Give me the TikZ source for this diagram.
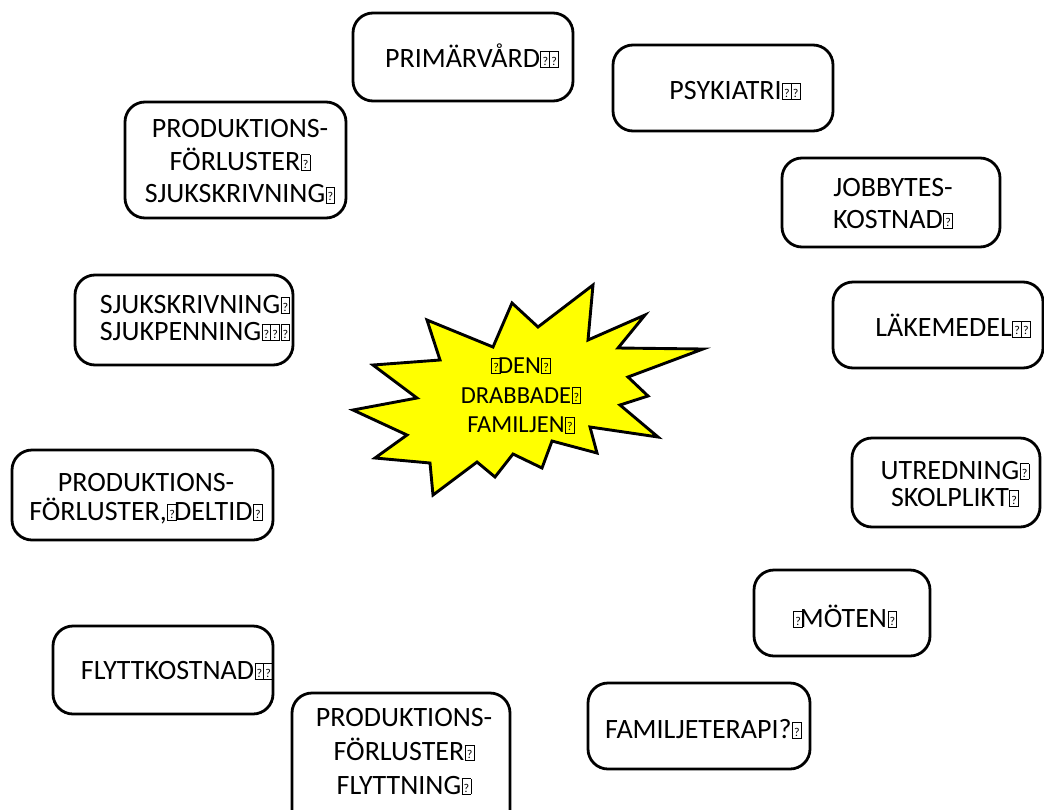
\documentclass[tikz,border=0pt]{standalone}
\usepackage{fontspec}
\setmainfont{Carlito}
\definecolor{burstyellow}{RGB}{255,255,0}
\newcommand\mg{\kern0.5pt\begingroup\fboxsep=0pt\fboxrule=0.8pt\fbox{\makebox[8pt]{\rule{0pt}{15pt}\raisebox{2pt}{\fontsize{12}{12}\selectfont ?}}}\endgroup}
\newcommand\mgg{\mg\kern-1.3pt\mg}
\begin{document}
\begin{tikzpicture}[x=1pt,y=-1pt,
  box/.style={draw=black, line width=2.8pt, rounded corners=20pt, fill=white, inner sep=0pt},
  lbl/.style={anchor=base, align=center, inner sep=0pt, font=\fontsize{28}{32.5}\selectfont},
  tightlbl/.style={lbl, font=\fontsize{28}{27}\selectfont},
  starlbl/.style={lbl, font=\fontsize{24.5}{29.7}\selectfont},
  burst/.style={draw=black, line width=2.9pt, fill=burstyellow, line join=miter}
]
\clip (0,0) rectangle (1044,809);
\fill[white] (0,0) rectangle (1044,809);

% boxes
\node[box, minimum width=220pt, minimum height=88pt] (b1) at (463,57) {};
\node[box, minimum width=220pt, minimum height=86pt] (b2) at (723,88) {};
\node[box, minimum width=221pt, minimum height=116pt] (b3) at (235.5,160) {};
\node[box, minimum width=218pt, minimum height=89pt] (b4) at (891,202.5) {};
\node[box, minimum width=210pt, minimum height=86pt] (b5) at (938,325) {};
\node[box, minimum width=188pt, minimum height=89pt] (b6) at (946,482.5) {};
\node[box, minimum width=218pt, minimum height=90pt] (b7) at (184,320) {};
\node[box, minimum width=261pt, minimum height=90pt] (b8) at (142.5,495) {};
\node[box, minimum width=176pt, minimum height=86pt] (b9) at (842,613) {};
\node[box, minimum width=220pt, minimum height=88pt] (b10) at (163,670) {};
\node[box, minimum width=218pt, minimum height=137pt] (b11) at (401,761.5) {};
\node[box, minimum width=222pt, minimum height=86pt] (b12) at (699,726) {};

% labels (anchor = baseline of the last line)
\node[lbl] (t1) at (472,67) {PRIMÄRVÅRD\mgg};
\node[lbl] (t2) at (735,99) {PSYKIATRI\mgg};
\node[lbl] (t3) at (240,202.7) {PRODUKTIONS-\\FÖRLUSTER\mg\\SJUKSKRIVNING\mg};
\node[lbl, font=\fontsize{28}{31.7}\selectfont] (t4) at (893,228.3) {JOBBYTES-\\KOSTNAD\mg};
\node[lbl] (t5) at (953,336.5) {LÄKEMEDEL\mgg};
\node[tightlbl] (t6) at (955,506) {UTREDNING\mg\\SKOLPLIKT\mg};
\node[tightlbl] (t7) at (195,340) {SJUKSKRIVNING\mg\\SJUKPENNING\mgg\mg};
\node[lbl, font=\fontsize{28}{28.3}\selectfont] (t8) at (146,520) {PRODUKTIONS-\\FÖRLUSTER,\mg\kern-3pt DELTID\mg};
\node[lbl] (t9) at (845,627) {\mg\kern-3pt MÖTEN\mg};
\node[lbl] (t10) at (177,679) {FLYTTKOSTNAD\mgg};
\node[lbl, font=\fontsize{28}{33.7}\selectfont] (t11) at (404,794) {PRODUKTIONS-\\FÖRLUSTER\mg\\FLYTTNING\mg};
\node[lbl] (t12) at (703.5,738) {FAMILJETERAPI?\mg};

% burst
\draw[burst] (593,285) -- (588,340) -- (645,315) -- (618,348) -- (703,349) -- (628,377)
  -- (648,396) -- (620,405) -- (658,437) -- (590,427) -- (597,453) -- (552,441)
  -- (542,468) -- (513,454) -- (495,477) -- (477,462) -- (433,495) -- (430,463)
  -- (375,458) -- (407,435) -- (353,410) -- (417,398) -- (373,365) -- (440,360)
  -- (427,320) -- (493,347) -- (512,303) -- (538,327) -- cycle;
\node[starlbl] (c) at (521,432.7) {\mg\kern-3pt DEN\mg\\DRABBADE\mg\\FAMILJEN\mg};
\end{tikzpicture}
\end{document}
